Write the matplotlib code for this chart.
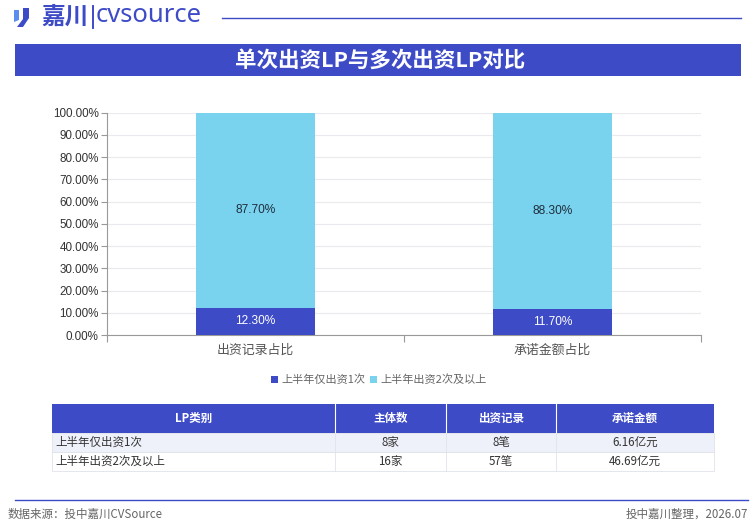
import matplotlib
matplotlib.use("Agg")
import matplotlib.pyplot as plt
from matplotlib.patches import Rectangle, Polygon
from matplotlib.ticker import FixedLocator
from matplotlib import font_manager as fm

plt.rcParams['font.family'] = ['Noto Sans CJK SC', 'DejaVu Sans']

# ---- data ----
title = "单次出资LP与多次出资LP对比"
categories = ["出资记录占比", "承诺金额占比"]
series_names = ["上半年仅出资1次", "上半年出资2次及以上"]
single_vals = [12.30, 11.70]
multi_vals = [87.70, 88.30]
y_ticks = [0, 10, 20, 30, 40, 50, 60, 70, 80, 90, 100]

table_header = ["LP类别", "主体数", "出资记录", "承诺金额"]
table_rows = [
    ["上半年仅出资1次", "8家", "8笔", "6.16亿元"],
    ["上半年出资2次及以上", "16家", "57笔", "46.69亿元"],
]
source_text = "数据来源：投中嘉川CVSource"
credit_text = "投中嘉川整理，2026.07"

DARK = "#3D4BC7"
LIGHT = "#79D3EE"
W, H = 756, 526


def latin_font(size):
    path = None
    for f in fm.fontManager.ttflist:
        fn = f.fname.lower()
        if f.name == "Liberation Sans" and f.style == "normal" and f.weight in (400, "normal", "regular") \
                and "narrow" not in fn and "bold" not in fn and "italic" not in fn:
            path = f.fname
            break
    if path:
        return fm.FontProperties(fname=path, size=size)
    return fm.FontProperties(family="DejaVu Sans", size=size * 0.9)


fig = plt.figure(figsize=(W / 100, H / 100), dpi=100)
fig.patch.set_facecolor("white")


def fx(x):
    return x / W


def fy(y):
    return 1 - y / H


# ---- logo ----
fig.patches.append(Polygon([(fx(14), fy(10)), (fx(19), fy(10)), (fx(19), fy(20)), (fx(14), fy(22))],
                           closed=True, transform=fig.transFigure, facecolor="#5B8DEF", edgecolor="none"))
fig.patches.append(Polygon([(fx(23), fy(8)), (fx(29), fy(8)), (fx(29), fy(18)), (fx(23), fy(27)), (fx(17), fy(27)), (fx(23), fy(19))],
                           closed=True, transform=fig.transFigure, facecolor=DARK, edgecolor="none"))
fig.text(fx(41), fy(17), "嘉川", fontsize=17, color=DARK, ha="left", va="center", fontweight="bold")
fig.add_artist(plt.Line2D([fx(93), fx(93)], [fy(6), fy(28)], color=DARK, lw=1.4, transform=fig.transFigure))
fig.text(fx(96), fy(15), "cvsource", fontsize=18.5, color=DARK, ha="left", va="center",
         family=["Noto Sans", "DejaVu Sans"], fontweight="medium")
fig.add_artist(plt.Line2D([fx(222), fx(741)], [fy(18), fy(18)], color=DARK, lw=1.0, transform=fig.transFigure))

# ---- title band ----
fig.patches.append(Rectangle((fx(15), fy(76)), fx(741) - fx(15), fy(44) - fy(76),
                             transform=fig.transFigure, facecolor=DARK, edgecolor="none"))
fig.text(fx(380), fy(60), title, fontsize=15.5, color="white", fontweight="bold", ha="center", va="center")

# ---- chart ----
ax = fig.add_axes([fx(107), fy(335), fx(701) - fx(107), fy(112.7) - fy(335)])
x = list(range(len(categories)))
b1 = ax.bar(x, single_vals, width=0.4, color=DARK, zorder=3)
b2 = ax.bar(x, multi_vals, width=0.4, bottom=single_vals, color=LIGHT, zorder=3)
for i in x:
    ax.text(i, single_vals[i] / 2, f"{single_vals[i]:.2f}%", ha="center", va="center",
            color="white", fontproperties=latin_font(8.6), zorder=4)
    ax.text(i, single_vals[i] + multi_vals[i] / 2, f"{multi_vals[i]:.2f}%", ha="center", va="center",
            color="#1f2d3d", fontproperties=latin_font(8.6), zorder=4)

ax.set_xlim(-0.5, len(categories) - 0.5)
ax.set_ylim(0, 100)
ax.set_yticks(y_ticks)
ax.set_yticklabels([f"{v:.2f}%" for v in y_ticks], color="#333333")
for lab in ax.get_yticklabels():
    lab.set_fontproperties(latin_font(8.4))
ax.xaxis.set_major_locator(FixedLocator([i - 0.5 for i in range(len(categories) + 1)]))
ax.set_xticklabels([""] * (len(categories) + 1))
ax.xaxis.set_minor_locator(FixedLocator(x))
ax.set_xticklabels(categories, minor=True, fontsize=9.3, color="#555555")
ax.tick_params(axis="x", which="major", length=5, color="#999999")
ax.tick_params(axis="x", which="minor", length=0, pad=6)
ax.tick_params(axis="y", length=4, color="#999999", pad=2)
ax.grid(axis="y", color="#e9e9ee", lw=0.8, zorder=0)
for s in ["top", "right"]:
    ax.spines[s].set_visible(False)
for s in ["left", "bottom"]:
    ax.spines[s].set_color("#999999")
    ax.spines[s].set_linewidth(0.8)

# ---- legend ----
leg = fig.legend([b1, b2], series_names, loc="center", bbox_to_anchor=(fx(379), fy(380)),
                 ncol=2, frameon=False, fontsize=8, handlelength=0.65, handleheight=0.65,
                 handletextpad=0.3, columnspacing=0.4, labelcolor="#666666")

# ---- table ----
col_edges = [52, 335, 446, 556, 714]
row_edges = [404, 433, 452, 471]
row_bg = ["#EEF1FA", "#FFFFFF"]
fig.patches.append(Rectangle((fx(col_edges[0]), fy(row_edges[1])), fx(col_edges[-1]) - fx(col_edges[0]),
                             fy(row_edges[0]) - fy(row_edges[1]), transform=fig.transFigure,
                             facecolor=DARK, edgecolor="none"))
for j, h in enumerate(table_header):
    cx = (col_edges[j] + col_edges[j + 1]) / 2
    fig.text(fx(cx), fy((row_edges[0] + row_edges[1]) / 2), h, color="white", fontsize=8.3,
             fontweight="bold", ha="center", va="center")
    if j > 0:
        fig.add_artist(plt.Line2D([fx(col_edges[j])] * 2, [fy(row_edges[0]), fy(row_edges[1])],
                                  color="white", lw=0.8, transform=fig.transFigure))
for r, row in enumerate(table_rows):
    top, bot = row_edges[r + 1], row_edges[r + 2]
    fig.patches.append(Rectangle((fx(col_edges[0]), fy(bot)), fx(col_edges[-1]) - fx(col_edges[0]),
                                 fy(top) - fy(bot), transform=fig.transFigure,
                                 facecolor=row_bg[r], edgecolor="#dfe3ea", lw=0.6))
    for j, val in enumerate(row):
        cy = fy((top + bot) / 2)
        if j == 0:
            fig.text(fx(col_edges[0] + 3), cy, val, color="#333333", fontsize=8.3, ha="left", va="center")
        else:
            cx = (col_edges[j] + col_edges[j + 1]) / 2
            fig.text(fx(cx), cy, val, color="#333333", fontsize=8.3, ha="center", va="center")
    for j in range(1, len(col_edges) - 1):
        fig.add_artist(plt.Line2D([fx(col_edges[j])] * 2, [fy(top), fy(bot)],
                                  color="#dfe3ea", lw=0.6, transform=fig.transFigure))

# ---- footer ----
fig.add_artist(plt.Line2D([fx(15), fx(748)], [fy(500), fy(500)], color=DARK, lw=1.0, transform=fig.transFigure))
fig.text(fx(8), fy(514), source_text, fontsize=8.3, color="#666666", ha="left", va="center")
fig.text(fx(748), fy(514), credit_text, fontsize=8.3, color="#666666", ha="right", va="center")

fig.savefig("out.png", dpi=100, facecolor="white")
